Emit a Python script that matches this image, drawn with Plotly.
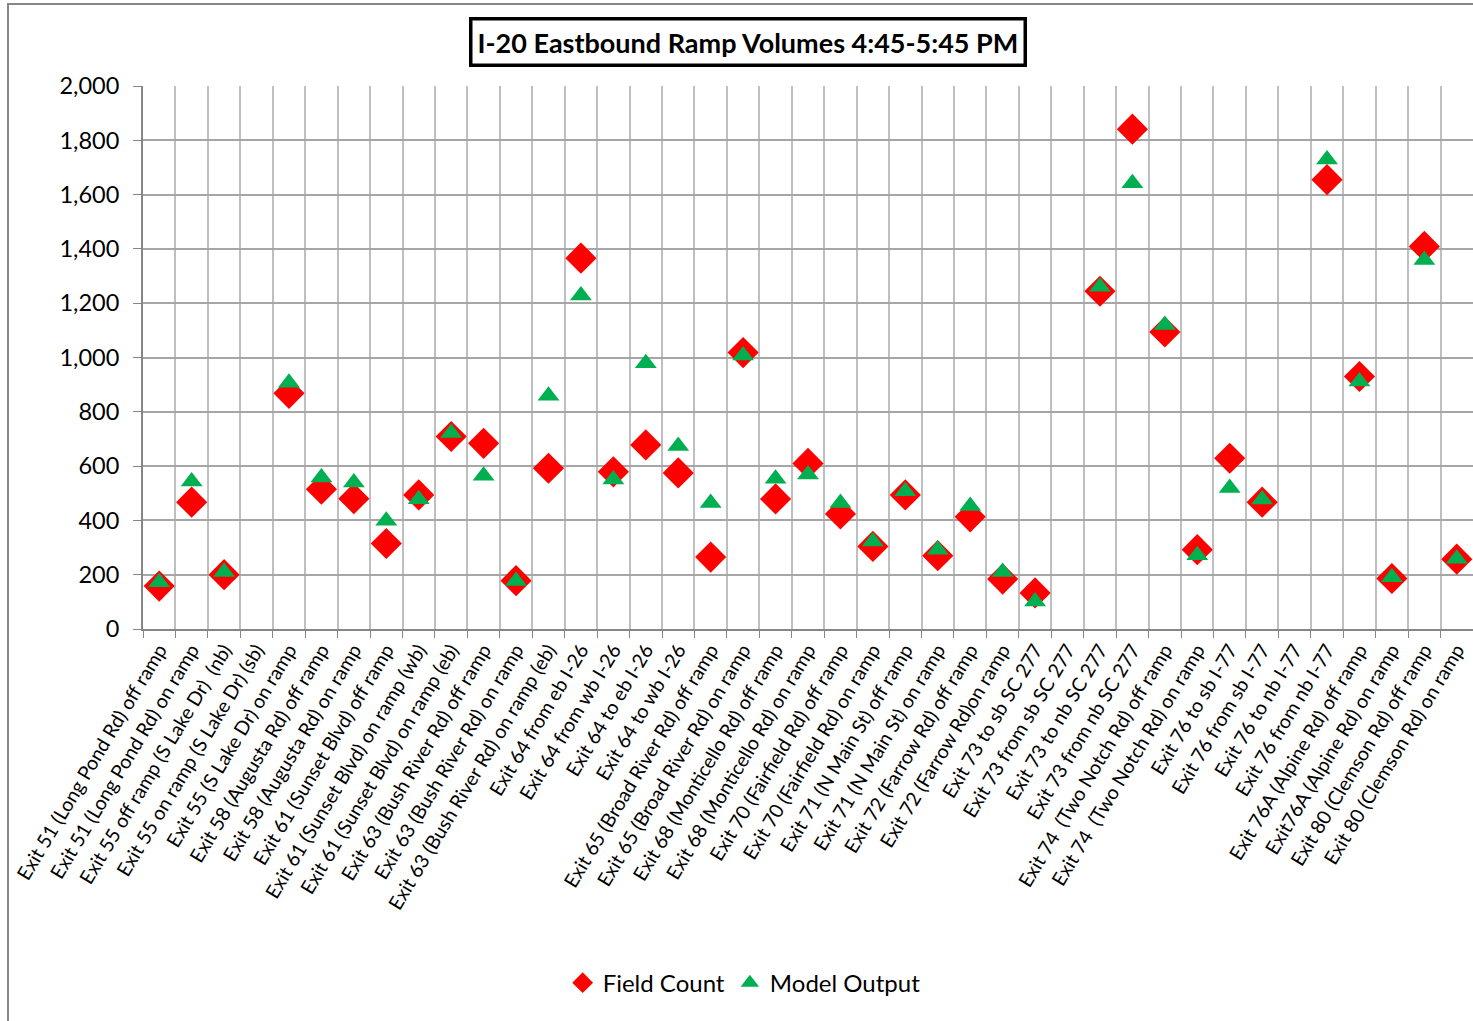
import plotly.graph_objects as go

NB = "\u00a0"

# Ramp locations along I-20 eastbound (x-axis categories)
ramps = [
    "Exit 51 (Long Pond Rd) off ramp",
    "Exit 51 (Long Pond Rd) on ramp",
    "Exit 55 off ramp (S Lake Dr) " + NB + "(nb)",
    "Exit 55 on ramp (S Lake Dr) (sb)",
    "Exit 55 (S Lake Dr) on ramp",
    "Exit 58 (Augusta Rd) off ramp",
    "Exit 58 (Augusta Rd) on ramp",
    "Exit 61 (Sunset Blvd) off ramp",
    "Exit 61 (Sunset Blvd) on ramp (wb)",
    "Exit 61 (Sunset Blvd) on ramp (eb)",
    "Exit 63 (Bush River Rd) off ramp",
    "Exit 63 (Bush River Rd) on ramp",
    "Exit 63 (Bush River Rd) on ramp (eb)",
    "Exit 64 from eb I-26",
    "Exit 64 from wb I-26",
    "Exit 64 to eb I-26",
    "Exit 64 to wb I-26",
    "Exit 65 (Broad River Rd) off ramp",
    "Exit 65 (Broad River Rd) on ramp",
    "Exit 68 (Monticello Rd) off ramp",
    "Exit 68 (Monticello Rd) on ramp",
    "Exit 70 (Fairfield Rd) off ramp",
    "Exit 70 (Fairfield Rd) on ramp",
    "Exit 71 (N Main St) off ramp",
    "Exit 71 (N Main St) on ramp",
    "Exit 72 (Farrow Rd) off ramp",
    "Exit 72 (Farrow Rd)on ramp",
    "Exit 73 to sb SC 277",
    "Exit 73 from sb SC 277",
    "Exit 73 to nb SC 277",
    "Exit 73 from nb SC 277",
    "Exit 74 " + NB + "(Two Notch Rd) off ramp",
    "Exit 74 " + NB + "(Two Notch Rd) on ramp",
    "Exit 76 to sb I-77",
    "Exit 76 from sb I-77",
    "Exit 76 to nb I-77",
    "Exit 76 from nb I-77",
    "Exit 76A (Alpine Rd) off ramp",
    "Exit76A (Alpine Rd) on ramp",
    "Exit 80 (Clemson Rd) off ramp",
    "Exit 80 (Clemson Rd) on ramp",
]

# Observed counts, vehicles per hour (4:45-5:45 PM)
field_count = [
    158, 467, 200, None, 868, 515, 480, 315, 494, 709,
    684, 178, 592, 1366, 579, 678, 575, 265, 1018, 479,
    610, 424, 304, 494, 270, 413, 184, 133, None, 1244,
    1841, 1094, 292, 629, 467, None, 1655, 930, 186, 1409,
    257,
]

# Simulated volumes from the travel demand model
model_output = [
    172, 543, 210, None, 907, 558, 540, 399, 478, 722,
    564, 177, 859, 1228, 551, 979, 674, 464, 1007, 553,
    569, 464, 322, 507, 292, 453, 210, 101, None, 1261,
    1642, 1120, 272, 519, 477, None, 1729, 912, 191, 1359,
    259,
]

y_ticks = [0, 200, 400, 600, 800, 1000, 1200, 1400, 1600, 1800, 2000]

FONT = "Lato, Carlito, Calibri, sans-serif"

fig = go.Figure()
fig.add_trace(go.Scatter(
    x=ramps, y=field_count, mode="markers", name="Field Count",
    marker=dict(symbol="diamond", size=24, color="#FF0000", line=dict(width=0)),
))
fig.add_trace(go.Scatter(
    x=ramps, y=model_output, mode="markers", name="Model Output",
    marker=dict(symbol="triangle-up", size=19, color="#00B050", line=dict(width=0)),
))

# chart title in a framed box
fig.add_annotation(
    text="<b>I-20 Eastbound Ramp Volumes 4:45-5:45 PM</b>",
    xref="paper", yref="paper", x=0.455, y=1.081,
    xanchor="center", yanchor="middle", showarrow=False,
    font=dict(family=FONT, size=27, color="black"),
    bordercolor="black", borderwidth=3.5, borderpad=5, bgcolor="white",
)

# outer chart-area frame
fig.add_shape(
    type="rect", xref="paper", yref="paper",
    x0=-0.1015, x1=1.01, y0=-0.74, y1=1.151,
    line=dict(color="#868686", width=2), layer="below",
)

fig.update_layout(
    width=1473, height=1021,
    margin=dict(l=143, r=0, t=86, b=392),
    paper_bgcolor="white", plot_bgcolor="white",
    font=dict(family=FONT, color="black"),
    showlegend=True,
    legend=dict(
        orientation="h", x=0.452, xanchor="center", y=-0.652, yanchor="middle",
        font=dict(family=FONT, size=24, color="black"),
        itemsizing="trace",
    ),
    xaxis=dict(
        type="category", categoryorder="array", categoryarray=ramps,
        range=[-0.5, len(ramps) - 0.5],
        tickson="boundaries", ticks="outside", ticklen=7, tickcolor="#868686",
        showgrid=True, gridcolor="#BFBFBF", gridwidth=2,
        showline=True, linecolor="#868686", linewidth=2,
        tickangle=-59, tickfont=dict(family=FONT, size=19.5, color="black"),
        zeroline=False,
    ),
    yaxis=dict(
        range=[0, 2000], tickvals=y_ticks, tickformat=",",
        ticks="outside", ticklen=8, tickcolor="#868686",
        showgrid=True, gridcolor="#A6A6A6", gridwidth=2,
        showline=True, linecolor="#868686", linewidth=2,
        tickfont=dict(family=FONT, size=23.5, color="black"),
        ticklabelstandoff=9,
        zeroline=False,
    ),
)

fig.write_html("out.html")
